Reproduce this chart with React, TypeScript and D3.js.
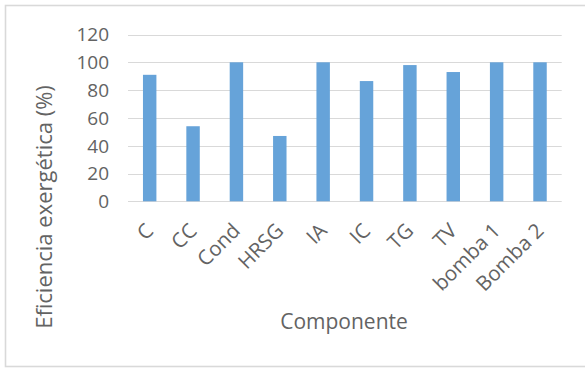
import React from "react";
import * as d3 from "d3";

const categories = ["C", "CC", "Cond", "HRSG", "IA", "IC", "TG", "TV", "bomba 1", "Bomba 2"];
const values = [91, 54, 100, 47, 100, 86.5, 98, 93, 100, 100];
const yTicks = [0, 20, 40, 60, 80, 100, 120];
const yTitle = "Eficiencia exergética (%)";
const xTitle = "Componente";

const W = 585;
const H = 368;
const FONT = "'Open Sans', sans-serif";

export default function App() {
  const x = d3
    .scaleBand<string>()
    .domain(categories)
    .range([128, 561.7])
    .paddingInner(0.69)
    .paddingOuter(0.345);
  const y = d3.scaleLinear().domain([0, 120]).range([201.3, 34.5]);
  const grey = "#636363";

  return (
    <svg
      width={W}
      height={H}
      style={{ position: "fixed", left: 0, top: 0, background: "#fff" }}
    >
      <rect x={0} y={0} width={W} height={H} fill="#fff" />
      <rect x={5.5} y={5.5} width={620} height={361} fill="none" stroke="#d9d9d9" strokeWidth={1.6} />
      {yTicks.map((t) => (
        <g key={t}>
          <line x1={128} x2={561.7} y1={Math.round(y(t)) + 0.5} y2={Math.round(y(t)) + 0.5} stroke="#d9d9d9" strokeWidth={1.2} />
          <text
            x={109}
            y={y(t)}
            dy="0.36em"
            textAnchor="end"
            fontFamily={FONT}
            fontSize={19}
            fill={grey}
          >
            {t}
          </text>
        </g>
      ))}
      {categories.map((c, i) => (
        <rect
          key={c}
          x={x(c)!}
          y={y(values[i])}
          width={x.bandwidth()}
          height={y(0) - y(values[i])}
          fill="#66a3d9"
        />
      ))}
      {categories.map((c) => {
        const px = x(c)! + x.bandwidth() / 2 + 5;
        const py = 232;
        return (
          <text
            key={c}
            x={px}
            y={py}
            textAnchor="end"
            transform={`rotate(-45 ${px} ${py})`}
            fontFamily={FONT}
            fontSize={20.5}
            fill={grey}
          >
            {c}
          </text>
        );
      })}
      <text
        x={344}
        y={329}
        textAnchor="middle"
        fontFamily={FONT}
        fontSize={21}
        fill={grey}
      >
        {xTitle}
      </text>
      <text
        transform={`translate(52 207) rotate(-90)`}
        textAnchor="middle"
        fontFamily={FONT}
        fontSize={22}
        fill={grey}
      >
        {yTitle}
      </text>
    </svg>
  );
}
